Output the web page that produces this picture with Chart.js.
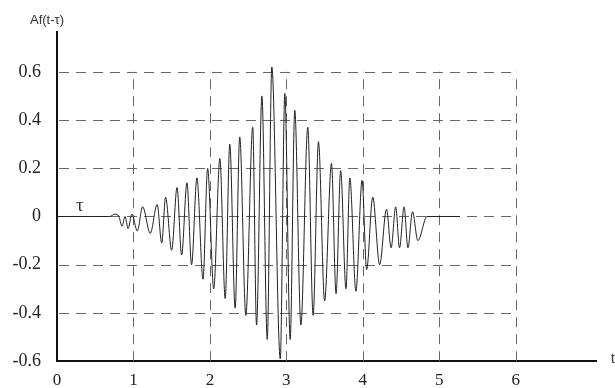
<!DOCTYPE html>
<html lang="en">
<head>
  <meta charset="UTF-8">
  <title>Af(t-τ)</title>
  <style>
    body {
      margin: 0;
      padding: 0;
      background-color: #fff;
    }
    .wrap {
      width: 615px;
      height: 388px;
    }
  </style>
</head>
<body>
  <div class="wrap">
    <canvas id="sigChart" width="615" height="388"></canvas>
  </div>

  <script src="https://cdn.jsdelivr.net/npm/chart.js"></script>
  <script>
    // tick values
    const xTicks = [0, 1, 2, 3, 4, 5, 6];
    const yTicks = [-0.6, -0.4, -0.2, 0, 0.2, 0.4, 0.6];

    // signal (peaks and troughs)
    const signalX = [0, 0.69, 0.76, 0.81, 0.85, 0.89, 0.93, 0.98, 1.05, 1.12,
      1.22, 1.31, 1.37, 1.42, 1.50, 1.57, 1.63, 1.70, 1.76, 1.83,
      1.91, 1.97, 2.05, 2.13, 2.20, 2.26, 2.33, 2.39, 2.47, 2.56,
      2.61, 2.68, 2.75, 2.81, 2.92, 2.98, 3.05, 3.11, 3.19, 3.28,
      3.35, 3.42, 3.50, 3.59, 3.65, 3.71, 3.78, 3.83, 3.91, 3.99,
      4.05, 4.13, 4.22, 4.31, 4.37, 4.43, 4.48, 4.54, 4.59, 4.65,
      4.72, 4.84, 5.27];
    const signalY = [0, 0, 0.01, 0, -0.04, 0.0, -0.05, 0.01, -0.06, 0.04,
      -0.07, 0.05, -0.11, 0.08, -0.14, 0.12, -0.16, 0.14, -0.20, 0.16,
      -0.26, 0.20, -0.30, 0.24, -0.34, 0.30, -0.38, 0.33, -0.41, 0.37,
      -0.45, 0.50, -0.51, 0.62, -0.59, 0.51, -0.51, 0.44, -0.45, 0.37,
      -0.41, 0.31, -0.35, 0.22, -0.32, 0.19, -0.30, 0.16, -0.31, 0.15,
      -0.22, 0.08, -0.20, 0.03, -0.13, 0.04, -0.13, 0.04, -0.13, 0.02,
      -0.10, 0, 0];

    // dashed grid box only covers 0..6 and -0.6..0.6
    const gridX = [1, 2, 3, 4, 5, 6];
    const gridY = [-0.4, -0.2, 0, 0.2, 0.4, 0.6];

    const gridPlugin = {
      id: 'dashGrid',
      beforeDatasetsDraw(chart) {
        const ctx = chart.ctx;
        const xs = chart.scales.x;
        const ys = chart.scales.y;
        ctx.save();
        ctx.strokeStyle = '#666';
        ctx.lineWidth = 1;
        ctx.setLineDash([10, 7]);
        gridY.forEach(v => {
          const py = Math.round(ys.getPixelForValue(v)) + 0.5;
          ctx.beginPath();
          ctx.moveTo(xs.getPixelForValue(0) + 2, py);
          ctx.lineTo(xs.getPixelForValue(6), py);
          ctx.stroke();
        });
        gridX.forEach(v => {
          const px = Math.round(xs.getPixelForValue(v)) + 0.5;
          ctx.beginPath();
          ctx.moveTo(px, ys.getPixelForValue(-0.6));
          ctx.lineTo(px, ys.getPixelForValue(0.6));
          ctx.stroke();
        });
        ctx.restore();
      },
      afterDraw(chart) {
        const ctx = chart.ctx;
        const xs = chart.scales.x;
        const ys = chart.scales.y;
        const area = chart.chartArea;
        ctx.save();
        ctx.fillStyle = '#333';
        ctx.textAlign = 'center';
        ctx.textBaseline = 'middle';
        ctx.font = '13px "Liberation Sans", Arial, sans-serif';
        ctx.fillText('Af(t-\u03C4)', area.left - 10, area.top - 12);
        ctx.font = '19px "Liberation Serif", serif';
        ctx.fillText('\u03C4', xs.getPixelForValue(0.3), ys.getPixelForValue(0.045));
        ctx.font = '16px "Liberation Serif", serif';
        ctx.fillText('t', 613, area.bottom - 2);
        ctx.restore();
      }
    };

    new Chart(document.getElementById('sigChart'), {
      type: 'line',
      data: {
        datasets: [{
          data: signalX.map((x, i) => ({ x: x, y: signalY[i] })),
          borderColor: '#222',
          borderWidth: 1,
          pointRadius: 0,
          cubicInterpolationMode: 'monotone',
          fill: false
        }]
      },
      options: {
        responsive: false,
        animation: false,
        layout: {
          padding: { top: 32, right: 19, left: 0, bottom: 0 }
        },
        plugins: {
          legend: { display: false },
          tooltip: { enabled: false }
        },
        scales: {
          x: {
            type: 'linear',
            min: 0,
            max: 7.05,
            afterBuildTicks: s => { s.ticks = xTicks.map(v => ({ value: v })); },
            afterFit: s => { s.height = 26; },
            grid: { display: false, drawTicks: false, tickLength: 0 },
            border: { display: true, color: '#111', width: 2 },
            ticks: {
              color: '#222',
              padding: 9,
              maxRotation: 0,
              font: { family: '"Liberation Serif", serif', size: 17 }
            }
          },
          y: {
            type: 'linear',
            min: -0.6,
            max: 0.765,
            afterBuildTicks: s => { s.ticks = yTicks.map(v => ({ value: v })); },
            afterFit: s => { s.width = 57; },
            grid: { display: false, drawTicks: false, tickLength: 0 },
            border: { display: true, color: '#111', width: 2 },
            ticks: {
              color: '#222',
              padding: 16,
              callback: v => (Math.abs(v) < 1e-9 ? '0' : String(Math.round(v * 10) / 10)),
              font: { family: '"Liberation Serif", serif', size: 18 }
            }
          }
        }
      },
      plugins: [gridPlugin]
    });
  </script>
</body>
</html>
